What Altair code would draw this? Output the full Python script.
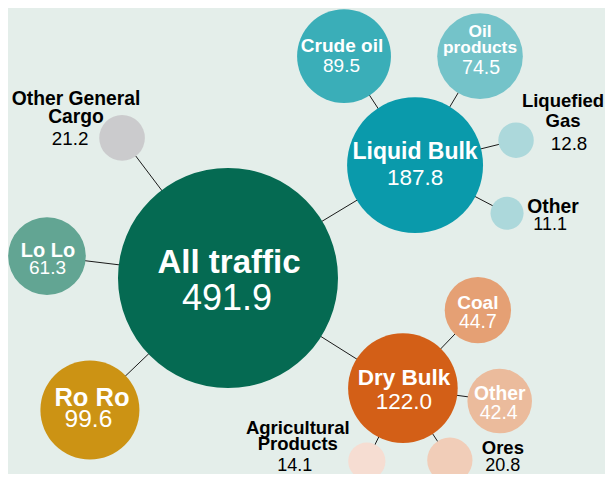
import math
import altair as alt
import pandas as pd

# ---- data ----
names = ["All traffic", "Liquid Bulk", "Dry Bulk", "Ro Ro", "Lo Lo",
         "Other General\nCargo", "Crude oil", "Oil\nproducts", "Liquefied\nGas",
         "Other", "Coal", "Other", "Ores", "Agricultural\nProducts"]
values = [491.9, 187.8, 122.0, 99.6, 61.3, 21.2, 89.5, 74.5, 12.8, 11.1,
          44.7, 42.4, 20.8, 14.1]
parents = [None, 0, 0, 0, 0, 0, 1, 1, 1, 1, 2, 2, 2, 2]

# ---- layout (angle from parent in degrees, screen y down; gap between rims) ----
root_xy = (228.0, 278.0)
angles = [None, -31.1, 32.2, 136.3, 186.9, -127.1, -123.1, -59.2, -13.9, 27.6,
          -46.1, 7.6, 56.9, 116.3]
gaps = [None, 40.5, 41.9, 31.5, 33.5, 42.8, 15.2, 16.1, 18.3, 19.3,
        20.2, 10.6, 8.6, 8.0]

# ---- styles ----
fills = ["#056a52", "#0a9aab", "#d35f17", "#cc9314", "#62a593", "#cbcbcd",
         "#3aaeb8", "#74c3c9", "#acd8db", "#acd8db", "#e5a074", "#ebbb9c",
         "#f1cdb8", "#f6ddd2"]
text_col = ["white", "white", "white", "white", "white", "black",
            "white", "white", "black", "black", "white", "white", "black", "black"]
# label: dx, dy (baseline of last line), line height, font size
lab_dx = [1, 0, 1, 2, 1, -46, -2, 0, 47, 46, 0, 0, 53, -69]
lab_dy = [-5.5, -5.7, -3, -4, 0.7, -14.7, -4.3, -2.7, -12.7, -0.7, -1.7, -1, -6, -11]
lab_lh = [0, 0, 0, 0, 0, 18.3, 0, 16.6, 20, 0, 0, 0, 0, 16.5]
lab_fs = [33, 23, 22.5, 25.5, 20, 19.3, 19, 17.3, 18.5, 19.3, 19, 19.3, 18.5, 18.5]
# value: dx, dy (baseline), font size
val_dx = [-1, 0, 1, -1.5, 0.5, -52, -2.5, 1, 53, 43, 0, -1, 53, -72]
val_dy = [32, 20, 21, 16.7, 18, 7, 15.7, 18, 10, 17, 17.7, 18, 11, 9.5]
val_fs = [36, 22.5, 22.5, 24.5, 19, 18.8, 19, 19.5, 18.8, 18, 19.3, 19.5, 18, 18]

OFF = 8
W, H = 597, 466
MAXV = values[0]
R0 = 110.0  # radius of the largest bubble in px


def radius(v):
    return R0 * math.sqrt(v / MAXV)


# compute positions
xs, ys = [0.0] * len(names), [0.0] * len(names)
for i in range(len(names)):
    p = parents[i]
    if p is None:
        xs[i], ys[i] = root_xy
    else:
        d = radius(values[p]) + radius(values[i]) + gaps[i]
        a = math.radians(angles[i])
        xs[i] = xs[p] + d * math.cos(a)
        ys[i] = ys[p] + d * math.sin(a)

nodes = pd.DataFrame({"name": [n.replace("\n", " ") for n in names],
                      "value": values, "x": xs, "y": ys, "fill": fills})

edges = pd.DataFrame([
    {"x": xs[parents[i]], "y": ys[parents[i]], "x2": xs[i], "y2": ys[i]}
    for i in range(len(names)) if parents[i] is not None
])

lab_rows, val_rows = [], []
for i, n in enumerate(names):
    lines = n.split("\n")
    k = len(lines)
    for j, ln in enumerate(lines):
        lab_rows.append({"t": ln, "x": xs[i] + lab_dx[i],
                         "y": ys[i] + lab_dy[i] - (k - 1 - j) * lab_lh[i],
                         "fs": lab_fs[i], "c": text_col[i]})
    val_rows.append({"t": f"{values[i]:.1f}", "x": xs[i] + val_dx[i],
                     "y": ys[i] + val_dy[i], "fs": val_fs[i], "c": text_col[i]})
labels = pd.DataFrame(lab_rows)
vals = pd.DataFrame(val_rows)

xsc = alt.Scale(domain=[OFF, OFF + W], nice=False, zero=False)
ysc = alt.Scale(domain=[OFF, OFF + H], nice=False, zero=False, reverse=True)
X = alt.X("x:Q", scale=xsc, axis=None)
Y = alt.Y("y:Q", scale=ysc, axis=None)

rules = alt.Chart(edges).mark_rule(color="#1a1a1a", strokeWidth=1).encode(
    x=X, y=Y, x2="x2:Q", y2="y2:Q")

circles = alt.Chart(nodes).mark_circle(opacity=1).encode(
    x=X, y=Y,
    size=alt.Size("value:Q", scale=alt.Scale(type="linear", domain=[0, MAXV],
                                             range=[0, (2 * R0) ** 2]), legend=None),
    color=alt.Color("fill:N", scale=None),
    tooltip=["name:N", "value:Q"])

lab_layer = alt.Chart(labels).mark_text(
    font="Liberation Sans", fontWeight="bold", align="center", baseline="alphabetic"
).encode(x=X, y=Y, text="t:N", size=alt.Size("fs:Q", scale=None),
         color=alt.Color("c:N", scale=None))

val_layer = alt.Chart(vals).mark_text(
    font="Liberation Sans", fontWeight="normal", align="center", baseline="alphabetic"
).encode(x=X, y=Y, text="t:N", size=alt.Size("fs:Q", scale=None),
         color=alt.Color("c:N", scale=None))

chart = alt.layer(rules, circles, lab_layer, val_layer).properties(
    width=W, height=H, autosize=alt.AutoSizeParams(type="none"), padding=0,
    background="#e4eeea"
).configure_view(stroke=None)

chart.save("out.html", embed_options={"renderer": "svg", "actions": False})
